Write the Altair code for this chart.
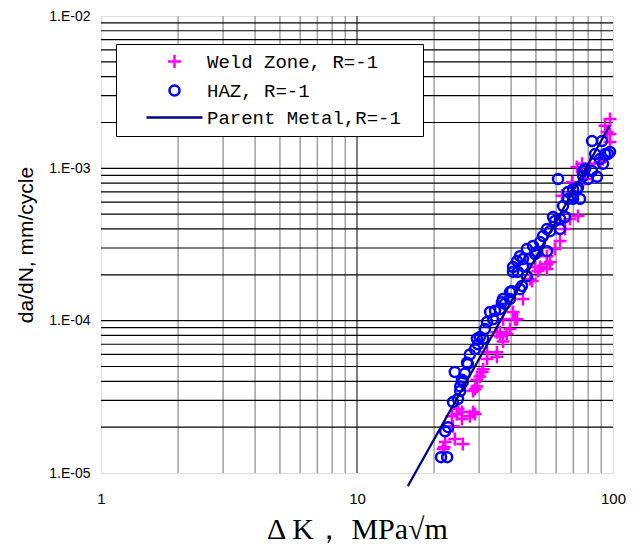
import altair as alt
import pandas as pd

# ---------------- data ----------------
SERIES = ["Weld Zone, R=-1", "HAZ, R=-1", "Parent Metal,R=-1"]
COLORS = ["#FF00FF", "#0000FF", "#000080"]

WZ_DK = [21.7, 22.1, 21.9, 23.5, 24.6, 25.7, 25.9, 24.1, 27.6, 28.9,
         28.4, 23.7, 24.8, 25.7, 28.4, 29.4, 28.9, 30.2, 29.4, 31.1,
         30.8, 32.2, 32.2, 35.2, 35.2, 36.2, 35.2, 38.5, 37.2, 41.4,
         36.2, 37.2, 39.6, 40.7, 42.2, 44.5, 47.4, 48.3, 50.9, 49.6,
         55.2, 55.2, 51.9, 55.2, 56.8, 62.1, 67.9, 73.0, 63.2, 69.2,
         69.8, 72.3, 75.7, 88.9, 91.4, 94.8, 97.3, 93.1, 97.3, 97.3,
         59.3, 65.0, 77.8, 81.3]
WZ_DADN = [1.44e-5, 1.60e-5, 1.48e-5, 2.36e-5, 2.44e-5, 2.26e-5, 1.55e-5, 1.67e-5, 2.36e-5, 2.44e-5,
           3.45e-5, 2.03e-5, 2.63e-5, 2.51e-5, 2.51e-5, 3.7e-5, 3.56e-5, 4.3e-5, 4.1e-5, 4.8e-5,
           4.6e-5, 5.6e-5, 6.2e-5, 5.8e-5, 6.2e-5, 8.4e-5, 8.4e-5, 8.2e-5, 1.02e-4, 1.02e-4,
           7.9e-5, 7.3e-5, 8.8e-5, 1.14e-4, 1.02e-4, 1.39e-4, 1.88e-4, 1.82e-4, 2.12e-4, 2.25e-4,
           2.35e-4, 2.65e-4, 2.25e-4, 2.18e-4, 2.43e-4, 3.33e-4, 4.65e-4, 4.86e-4, 6.6e-4, 8.1e-4,
           7.0e-4, 1.02e-3, 1.07e-3, 1.10e-3, 1.15e-3, 1.73e-3, 1.49e-3, 1.90e-3, 1.68e-3, 2.11e-3,
           2.95e-4, 3.99e-4, 8.5e-4, 1.07e-3]

HAZ_DK = [21.3, 22.5, 22.1, 22.7, 23.7, 24.8, 25.3, 25.3, 25.9, 25.7,
          24.1, 26.4, 26.9, 27.1, 27.6, 28.9, 29.4, 30.2, 31.1, 32.2,
          34.0, 33.1, 34.6, 36.8, 37.2, 39.6, 39.6, 40.3, 43.3, 44.1,
          40.7, 42.5, 46.1, 40.7, 42.2, 43.3, 44.5, 44.5, 46.1, 47.4,
          48.7, 50.5, 51.9, 53.3, 55.2, 55.2, 58.3, 62.1, 65.0, 62.1,
          63.8, 61.0, 69.8, 66.7, 69.8, 72.3, 69.8, 74.3, 73.0, 76.4,
          76.4, 79.8, 82.8, 86.6, 85.1, 82.8, 90.6, 91.4, 93.1, 95.5,
          97.3, 29.7, 31.6, 36.2, 37.8, 49.6, 56.8, 59.3, 66.7, 77.8, 88.9]
HAZ_DADN = [1.27e-5, 1.27e-5, 1.88e-5, 2.0e-5, 2.92e-5, 3.06e-5, 3.45e-5, 3.7e-5, 3.95e-5, 4.1e-5,
            4.6e-5, 4.5e-5, 5.3e-5, 5.2e-5, 6.0e-5, 6.5e-5, 7.6e-5, 7.8e-5, 7.6e-5, 9.8e-5,
            1.02e-4, 1.14e-4, 1.16e-4, 1.32e-4, 1.39e-4, 1.39e-4, 1.54e-4, 1.56e-4, 1.61e-4, 1.69e-4,
            2.09e-4, 2.09e-4, 1.96e-4, 2.25e-4, 2.46e-4, 2.65e-4, 2.28e-4, 2.54e-4, 2.95e-4, 2.54e-4,
            3.09e-4, 2.82e-4, 3.28e-4, 3.59e-4, 2.86e-4, 3.99e-4, 4.79e-4, 4.65e-4, 4.79e-4, 3.99e-4,
            5.65e-4, 8.5e-4, 7.3e-4, 7.0e-4, 6.3e-4, 7.3e-4, 6.6e-4, 6.3e-4, 7.5e-4, 9.6e-4,
            8.9e-4, 8.5e-4, 9.6e-4, 8.8e-4, 1.24e-3, 1.51e-3, 1.51e-3, 1.07e-3, 1.24e-3, 1.24e-3,
            1.28e-3, 7.0e-5, 8.8e-5, 1.19e-4, 1.29e-4, 2.74e-4, 3.87e-4, 4.51e-4, 6.3e-4, 9.9e-4, 1.15e-3]

PM_DK = [15.8, 97.0]
PM_DADN = [8.2e-6, 1.9e-3]

X_TICKS = [1, 10, 100]
Y_TICKS = [1e-5, 1e-4, 1e-3, 1e-2]
Y_TICK_LABELS = ["1.E-05", "1.E-04", "1.E-03", "1.E-02"]
X_GRID_MINOR = [2, 3, 4, 5, 6, 7, 8, 9, 20, 30, 40, 50, 60, 70, 80, 90]
X_GRID_MAJOR = [10]
Y_GRID = [2e-5, 3e-5, 4e-5, 5e-5, 6e-5, 7e-5, 8e-5, 9e-5, 1e-4,
          2e-4, 3e-4, 4e-4, 5e-4, 6e-4, 7e-4, 8e-4, 9e-4, 1e-3,
          2e-3, 3e-3, 4e-3, 5e-3, 6e-3, 7e-3, 8e-3, 9e-3]

# ---------------- tables ----------------
pts = pd.concat([
    pd.DataFrame({"dK": WZ_DK, "dadN": WZ_DADN, "series": SERIES[0]}),
    pd.DataFrame({"dK": HAZ_DK, "dadN": HAZ_DADN, "series": SERIES[1]}),
], ignore_index=True)
line_df = pd.DataFrame({"dK": PM_DK, "dadN": PM_DADN})
xmin_df = pd.DataFrame({"v": X_GRID_MINOR})
xmaj_df = pd.DataFrame({"v": X_GRID_MAJOR})
yg_df = pd.DataFrame({"v": Y_GRID})

xscale = alt.Scale(type="log", domain=[1, 100], nice=False)
yscale = alt.Scale(type="log", domain=[1e-5, 1e-2], nice=False)

label_expr = " : ".join(
    f"datum.value < {Y_TICKS[i] * 2} ? '{Y_TICK_LABELS[i]}'" for i in range(len(Y_TICKS) - 1)
) + f" : '{Y_TICK_LABELS[-1]}'"

x_axis = alt.Axis(values=X_TICKS, format="d", grid=False, ticks=False, domain=False,
                  labelFlush=False,
                  labelFont="Liberation Sans", labelFontSize=15, labelColor="black",
                  labelPadding=18, title="Δ K， MPa√m", titleFont="Liberation Serif",
                  titleFontSize=30, titleFontWeight="normal", titleColor="black", titlePadding=8)
y_axis = alt.Axis(values=Y_TICKS, labelExpr=label_expr, grid=False, ticks=False, domain=False,
                  labelFlush=False,
                  labelFont="Liberation Sans", labelFontSize=14, labelColor="black",
                  labelPadding=11, title="da/dN, mm/cycle", titleFont="Liberation Sans",
                  titleFontSize=21, titleFontWeight="normal", titleColor="black", titlePadding=12)

grid_x_minor = alt.Chart(xmin_df).mark_rule(color="#a0a0a0", strokeWidth=1.5).encode(
    x=alt.X("v:Q", scale=xscale, axis=x_axis))
grid_x_major = alt.Chart(xmaj_df).mark_rule(color="black", strokeWidth=1).encode(
    x=alt.X("v:Q", scale=xscale))
grid_y = alt.Chart(yg_df).mark_rule(color="black", strokeWidth=1.2).encode(
    y=alt.Y("v:Q", scale=yscale, axis=y_axis))

PLUS = "M-1.3,0H1.3M0,-1.3V1.3"
LINE_SYM = "M-5.6,0H5.6"

legend = alt.Legend(orient="none", legendX=15, legendY=28, title=None, padding=8,
                    fillColor="white", strokeColor="black",
                    labelFont="Liberation Mono", labelFontSize=19, labelColor="black",
                    labelLimit=500,
                    symbolSize=100, symbolStrokeWidth=2.5, symbolOffset=41, labelOffset=23,
                    rowPadding=7, labelExpr="datum.label + '\u2800'")

points = alt.Chart(pts).mark_point(filled=False, size=100, strokeWidth=2.5, opacity=1).encode(
    x=alt.X("dK:Q", scale=xscale),
    y=alt.Y("dadN:Q", scale=yscale),
    color=alt.Color("series:N", scale=alt.Scale(domain=SERIES, range=COLORS), legend=legend),
    shape=alt.Shape("series:N", scale=alt.Scale(domain=SERIES, range=[PLUS, "circle", LINE_SYM]),
                    legend=legend),
)

pm_line = alt.Chart(line_df).mark_line(color="#000080", strokeWidth=2.2).encode(
    x=alt.X("dK:Q", scale=xscale),
    y=alt.Y("dadN:Q", scale=yscale),
)

chart = alt.layer(grid_x_minor, grid_x_major, grid_y, points, pm_line).properties(
    width=512, height=457,
    padding={"left": 15, "top": 9, "right": 5, "bottom": 5},
).configure_view(stroke="black", strokeWidth=3).configure(background="white")

chart.save("out.html", embed_options={"renderer": "svg", "actions": False})
